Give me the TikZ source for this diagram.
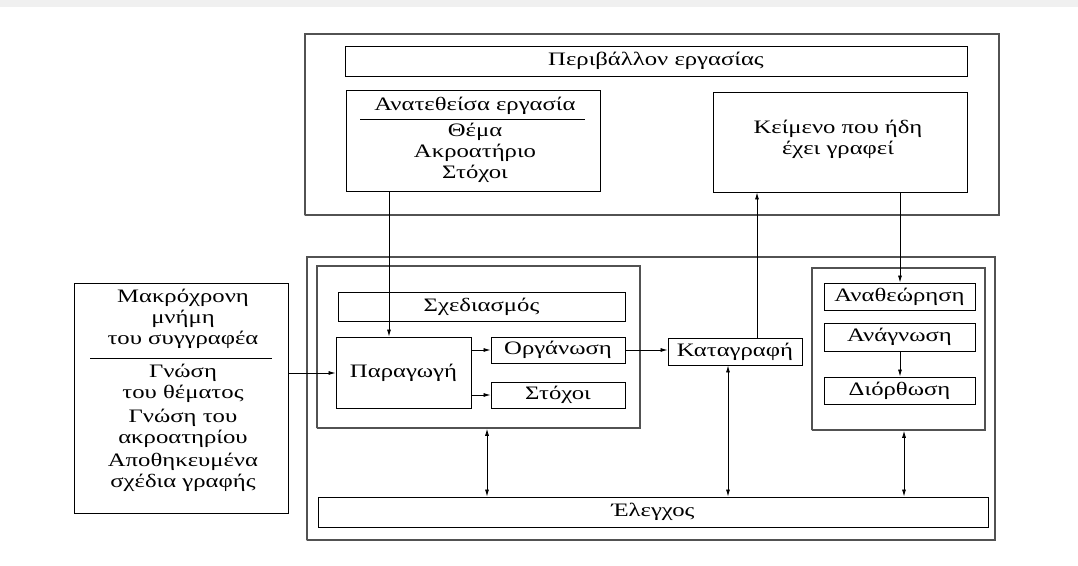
\documentclass[tikz,border=0pt]{standalone}
\usepackage{fontspec}
\setmainfont[FakeStretch=1.3]{Liberation Serif}
\usetikzlibrary{arrows.meta}
\begin{document}
\begin{tikzpicture}[x=1pt,y=-1pt,
  txt/.style={font=\fontsize{19}{21}\selectfont, inner sep=0pt},
  box/.style={draw=black, line width=0.9pt, inner sep=0pt, txt},
  frame/.style={draw=black!68, line width=1.5pt, dash pattern=on 1.6pt off 0.4pt, inner sep=0pt},
  arr/.style={draw=black, line width=0.8pt, -{Latex[length=7pt,width=4pt]}},
  arrtwo/.style={draw=black, line width=0.8pt, {Latex[length=7pt,width=4pt]}-{Latex[length=7pt,width=4pt]}}]
\useasboundingbox (0,0) rectangle (1078,565);
\fill[black!6] (0,0) rectangle (1078,7);

% task environment
\node[frame, minimum width=694, minimum height=181] (topframe) at (652,124.5) {};
\node[box, minimum width=622, minimum height=30] (env) at (656,61) {Περιβάλλον εργασίας};
\node[box, minimum width=254, minimum height=101] (task) at (473,140.5) {};
\node[txt] (taskhead) at (475,106) {Ανατεθείσα εργασία};
\draw[line width=0.6pt] (360,119) -- (585,119);
\node[txt, align=center] (tasklist) at (475,153) {Θέμα\\Ακροατήριο\\Στόχοι};
\node[box, minimum width=254, minimum height=100] (done) at (840,142) {};
\node[txt, align=center] (donetext) at (838,139) {Κείμενο που ήδη\\έχει γραφεί};

% writing process
\node[frame, minimum width=688, minimum height=283] (lowframe) at (651,398.5) {};
\node[frame, minimum width=323, minimum height=162] (gen) at (478.5,347) {};
\node[box, minimum width=287, minimum height=29] (plan) at (481.5,306.5) {Σχεδιασμός};
\node[box, minimum width=135, minimum height=71] (prod) at (403.5,372.5) {Παραγωγή};
\node[box, minimum width=134, minimum height=26] (org) at (558,350) {Οργάνωση};
\node[box, minimum width=134, minimum height=26] (goals) at (558,395) {Στόχοι};
\node[box, minimum width=134, minimum height=27] (write) at (735,351.5) {Καταγραφή};
\node[frame, minimum width=173, minimum height=162] (revise) at (898.5,349) {};
\node[box, minimum width=151, minimum height=27] (review) at (899.5,296.5) {Αναθεώρηση};
\node[box, minimum width=151, minimum height=28] (read) at (899.5,337) {Ανάγνωση};
\node[box, minimum width=151, minimum height=27] (edit) at (899.5,390.5) {Διόρθωση};
\node[box, minimum width=670, minimum height=30] (check) at (653,512) {Έλεγχος};

% long-term memory
\node[box, minimum width=214, minimum height=230] (memory) at (181,398) {};
\node[txt, align=center] (memhead) at (183,319) {Μακρόχρονη\\μνήμη\\του συγγραφέα};
\draw[line width=0.6pt] (90,358) -- (272,358);
\node[txt, align=center] (memtopic) at (183,383) {Γνώση\\του θέματος};
\node[txt, align=center] (memaud) at (183,428) {Γνώση του\\ακροατηρίου};
\node[txt, align=center] (memplans) at (183,472) {Αποθηκευμένα\\σχέδια γραφής};

% connectors
\coordinate (xa) at (389,0);
\coordinate (xb) at (757,0);
\coordinate (xc) at (900,0);
\coordinate (xd) at (487,0);
\coordinate (xe) at (728,0);
\coordinate (xf) at (904,0);
\coordinate (ya) at (0,373);
\draw[arr] (task.south -| xa) -- (prod.north -| xa);
\draw[arr] (write.north -| xb) -- (done.south -| xb);
\draw[arr] (done.south -| xc) -- (review.north -| xc);
\draw[arr] (read.south -| xc) -- (edit.north -| xc);
\draw[arr] (memory.east |- ya) -- (prod.west |- ya);
\draw[arr] (prod.east |- org.west) -- (org.west);
\draw[arr] (prod.east |- goals.west) -- (goals.west);
\draw[arr] (org.east) -- (org.east -| write.west);
\draw[arrtwo] (gen.south -| xd) -- (check.north -| xd);
\draw[arrtwo] (write.south -| xe) -- (check.north -| xe);
\draw[arrtwo] (revise.south -| xf) -- (check.north -| xf);
\end{tikzpicture}
\end{document}
